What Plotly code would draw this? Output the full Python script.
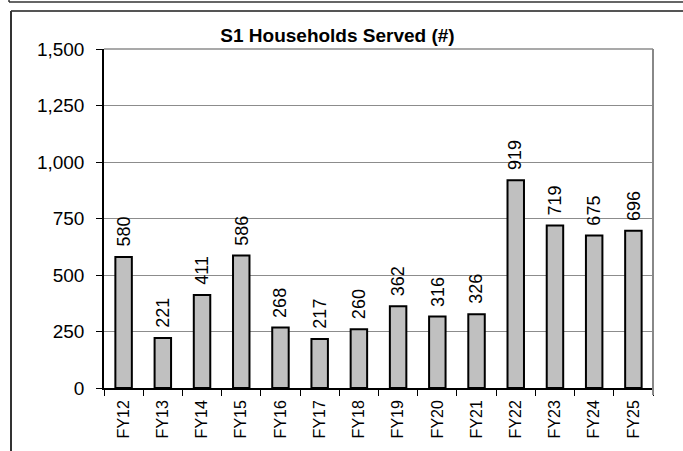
import plotly.graph_objects as go

categories = ["FY12", "FY13", "FY14", "FY15", "FY16", "FY17", "FY18",
              "FY19", "FY20", "FY21", "FY22", "FY23", "FY24", "FY25"]
households = [580, 221, 411, 586, 268, 217, 260, 362, 316, 326, 919, 719, 675, 696]
y_ticks = [0, 250, 500, 750, 1000, 1250, 1500]
y_tick_labels = ["0", "250", "500", "750", "1,000", "1,250", "1,500"]
title_text = "S1 Households Served (#)"

W, H = 683, 451
L, R, T, B = 104, 653, 49, 388

def px_x(p):
    return (p - L) / (R - L)

def px_y(p):
    return (B - p) / (B - T)

fig = go.Figure()
fig.add_trace(go.Bar(
    x=categories, y=households,
    marker=dict(color="#C0C0C0", line=dict(color="#000000", width=2)),
    cliponaxis=False, hoverinfo="skip",
))

for cat, val in zip(categories, households):
    fig.add_annotation(
        x=cat, y=val, text=str(val), showarrow=False, textangle=-90,
        xanchor="center", yanchor="bottom", yshift=8,
        font=dict(family="Liberation Sans", size=18, color="#000000"),
    )

line_col = "#333333"
shapes = [
    dict(type="line", xref="paper", yref="paper", x0=px_x(9), x1=px_x(700), y0=px_y(2), y1=px_y(2),
         line=dict(color=line_col, width=1.5)),
    dict(type="line", xref="paper", yref="paper", x0=px_x(9), x1=px_x(9), y0=px_y(-5), y1=px_y(2),
         line=dict(color=line_col, width=1.5)),
    dict(type="line", xref="paper", yref="paper", x0=px_x(11), x1=px_x(700), y0=px_y(11), y1=px_y(11),
         line=dict(color="#555555", width=2)),
    dict(type="line", xref="paper", yref="paper", x0=px_x(11), x1=px_x(11), y0=px_y(11), y1=px_y(460),
         line=dict(color=line_col, width=2)),
    # top border of plot area (1,500 gridline)
    dict(type="line", xref="paper", yref="paper", x0=0, x1=1, y0=1, y1=1,
         line=dict(color="#8C8C8C", width=1.5)),
    # right border of plot area
    dict(type="line", xref="paper", yref="paper", x0=1, x1=1, y0=px_y(395), y1=1,
         line=dict(color="#888888", width=2)),
]

fig.update_layout(
    width=W, height=H,
    margin=dict(l=L, r=W - R, t=T, b=H - B),
    paper_bgcolor="white", plot_bgcolor="white",
    showlegend=False,
    bargap=0.58,
    shapes=shapes,
    title=dict(text="<b>" + title_text + "</b>", x=337.5 / W,
               xanchor="center", y=1 - 35 / H, yanchor="middle",
               font=dict(family="Liberation Sans Narrow, Liberation Sans", size=19, color="#000000")),
    font=dict(family="Liberation Sans", color="#000000"),
)

fig.update_yaxes(
    range=[0, 1500], tickvals=y_ticks, ticktext=y_tick_labels,
    showgrid=True, gridcolor="#8C8C8C", gridwidth=1,
    showline=True, linecolor="#000000", linewidth=1.5,
    ticks="outside", ticklen=6, tickcolor="#000000",
    ticklabelstandoff=8,
    tickfont=dict(family="Liberation Sans", size=19, color="#000000"),
    zeroline=False,
)
fig.update_xaxes(
    showline=True, linecolor="#000000", linewidth=1.5,
    ticks="outside", ticklen=6, tickcolor="#000000", tickson="boundaries",
    tickangle=-90, ticklabelstandoff=4,
    tickfont=dict(family="Liberation Sans", size=16, color="#000000"),
)

fig.write_html("out.html", config={"displayModeBar": False},
               post_script="document.body.style.margin='0';")
